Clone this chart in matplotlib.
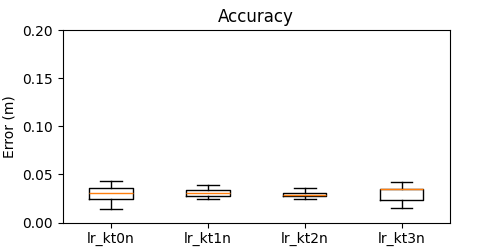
import matplotlib
matplotlib.use("Agg")
import matplotlib.pyplot as plt

labels = ["lr_kt0n", "lr_kt1n", "lr_kt2n", "lr_kt3n"]
whislo = [0.0142, 0.0249, 0.0249, 0.0155]
q1 = [0.0242, 0.0280, 0.0273, 0.0231]
med = [0.0304, 0.0304, 0.0290, 0.0345]
q3 = [0.0360, 0.0339, 0.0311, 0.0350]
whishi = [0.0435, 0.0394, 0.0363, 0.0422]

stats = []
for i in range(len(labels)):
    stats.append({
        'label': labels[i],
        'whislo': whislo[i],
        'q1': q1[i],
        'med': med[i],
        'q3': q3[i],
        'whishi': whishi[i],
        'fliers': [],
    })

fig, ax = plt.subplots(figsize=(5, 2.5), dpi=100)
ax.bxp(stats, showfliers=False)
ax.set_ylim(0, 0.2)
ax.set_title('Accuracy')
ax.set_ylabel('Error (m)')
fig.savefig('out.png')
